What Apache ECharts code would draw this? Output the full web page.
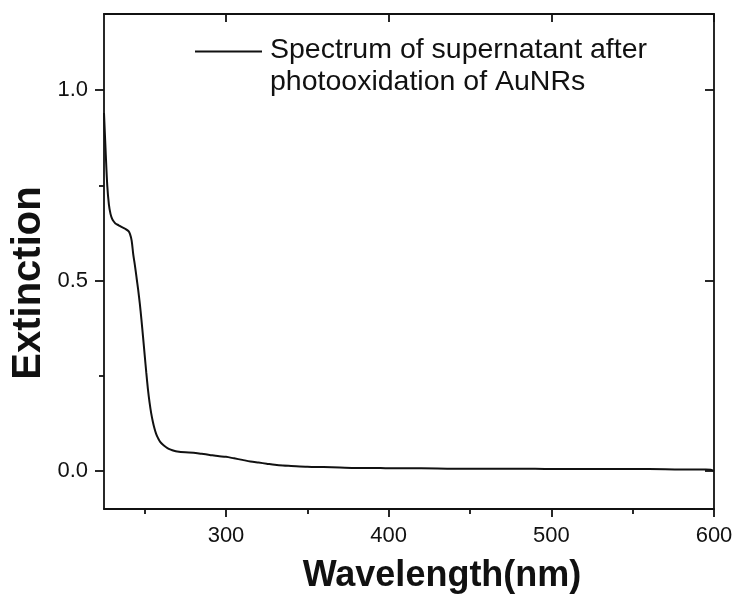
<!DOCTYPE html>
<html>
<head>
<meta charset="utf-8">
<script src="https://cdn.jsdelivr.net/npm/echarts@6/dist/echarts.min.js"></script>
<style>html,body{margin:0;padding:0;background:#fff;}#c{width:736px;height:594px;}</style>
</head>
<body>
<div id="c"></div>
<script>
const wavelengths = [225,226,227,228,229,230,231,232,234,236,238,240,241,242,243,244,245,246,247,248,249,250,251,252,253,254,255,256,257,258,259,260,262,264,266,268,270,275,280,285,290,295,300,305,310,315,320,325,330,335,340,350,360,370,380,390,400,420,440,460,480,500,520,540,560,580,595,598,600];
const extinction = [0.94,0.84,0.75,0.70,0.675,0.662,0.655,0.650,0.645,0.640,0.636,0.630,0.622,0.605,0.568,0.540,0.508,0.476,0.440,0.398,0.352,0.305,0.258,0.215,0.180,0.152,0.130,0.112,0.098,0.088,0.080,0.074,0.066,0.060,0.056,0.053,0.051,0.049,0.048,0.045,0.042,0.039,0.037,0.033,0.029,0.025,0.022,0.019,0.016,0.014,0.013,0.011,0.010,0.009,0.008,0.008,0.007,0.007,0.006,0.006,0.006,0.005,0.005,0.005,0.005,0.004,0.004,0.003,0.0];
const xMajorTicks = [300,400,500,600];
const xMinorTicks = [250,350,450,550];
const yMajorTicks = [0,0.5,1.0];
const yMinorTicks = [0.25,0.75];
const seriesName = 'Spectrum of supernatant after\nphotooxidation of AuNRs';
const xTitle = 'Wavelength(nm)';
const yTitle = 'Extinction';

const FONT = '"Liberation Sans", Arial, sans-serif';
const INK = '#111';
const data = wavelengths.map((w,i)=>[w, extinction[i]]);

const chart = echarts.init(document.getElementById('c'), null, {renderer:'canvas'});
const xBase = {type:'value', min:225, max:600, gridIndex:0, splitLine:{show:false}};
const yBase = {type:'value', min:-0.1, max:1.2, gridIndex:0, splitLine:{show:false}};
const axLine = {show:true, onZero:false, lineStyle:{color:INK, width:1.8}};
const noLine = {show:false, onZero:false};
const tickStyle = {color:INK, width:1.8};
chart.setOption({
  animation:false,
  backgroundColor:'#fff',
  grid:{left:104, right:22, top:14, bottom:85, containLabel:false},
  legend:{
    show:true, left:195, top:34.5, padding:0,
    icon:'path://M0,0L67,0L67,2L0,2ZM0,31L0.01,31', itemWidth:67, itemHeight:31,
    data:[{name:seriesName}],
    selectedMode:false,
    textStyle:{fontFamily:FONT, fontSize:28.5, color:INK, lineHeight:31.5, padding:[0,0,0,3]}
  },
  xAxis:[
    Object.assign({}, xBase, {position:'bottom', axisLine:axLine,
      axisTick:{show:true, inside:false, length:8, customValues:xMajorTicks, lineStyle:tickStyle},
      axisLabel:{show:true, customValues:xMajorTicks, margin:16, fontFamily:FONT, fontSize:22, color:INK}
    }),
    Object.assign({}, xBase, {position:'bottom', axisLine:noLine,
      axisTick:{show:true, inside:false, length:5, customValues:xMinorTicks, lineStyle:tickStyle},
      axisLabel:{show:false}
    }),
    Object.assign({}, xBase, {position:'top', axisLine:axLine,
      axisTick:{show:true, inside:true, length:8, customValues:xMajorTicks, lineStyle:tickStyle},
      axisLabel:{show:false}
    })
  ],
  yAxis:[
    Object.assign({}, yBase, {position:'left', axisLine:axLine,
      axisTick:{show:true, inside:false, length:9, customValues:yMajorTicks, lineStyle:tickStyle},
      axisLabel:{show:true, customValues:yMajorTicks, margin:16, fontFamily:FONT, fontSize:22, color:INK,
        formatter:(v)=>v.toFixed(1)}
    }),
    Object.assign({}, yBase, {position:'left', axisLine:noLine,
      axisTick:{show:true, inside:false, length:5, customValues:yMinorTicks, lineStyle:tickStyle},
      axisLabel:{show:false}
    }),
    Object.assign({}, yBase, {position:'right', axisLine:axLine,
      axisTick:{show:true, inside:true, length:9, customValues:yMajorTicks, lineStyle:tickStyle},
      axisLabel:{show:false}
    })
  ],
  graphic:[
    {type:'text', x:442, y:576, style:{text:xTitle, fontFamily:FONT, fontWeight:'bold', fontSize:36, fill:INK, align:'center', verticalAlign:'middle'}},
    {type:'text', x:29, y:283, rotation:Math.PI/2, style:{text:yTitle, fontFamily:FONT, fontWeight:'bold', fontSize:40, fill:INK, align:'center', verticalAlign:'middle'}}
  ],
  series:[{
    name:seriesName, type:'line', xAxisIndex:0, yAxisIndex:0,
    data:data, showSymbol:false, symbol:'none', smooth:0.3,
    lineStyle:{color:INK, width:2}, itemStyle:{color:INK}
  }]
});
</script>
</body>
</html>
